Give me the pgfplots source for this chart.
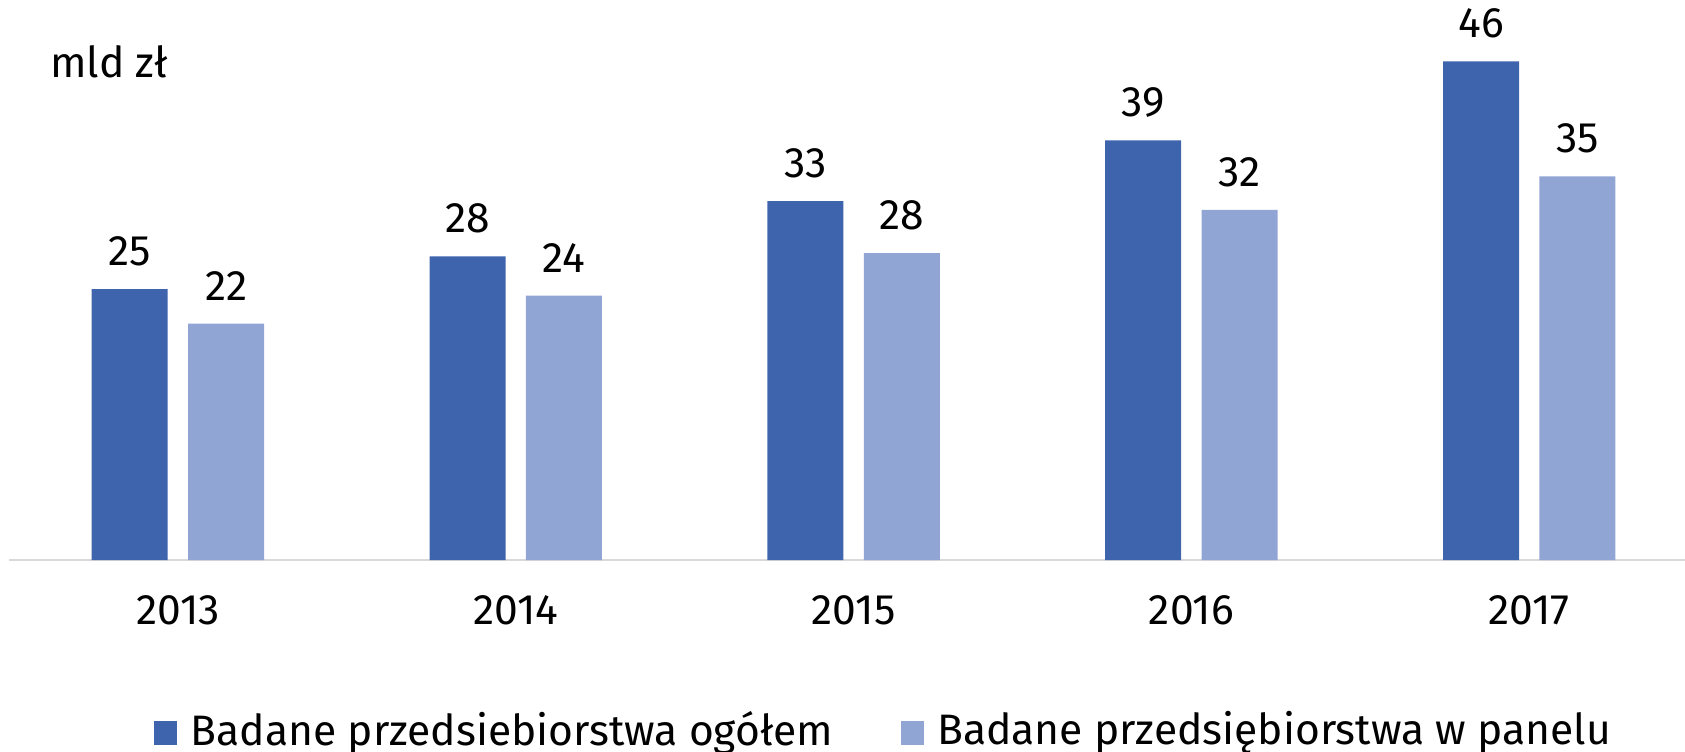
\documentclass[border=0pt]{standalone}
\usepackage{fontspec}
\setmainfont{Fira Sans}
\usepackage{pgfplots}
\pgfplotsset{compat=1.18}
\definecolor{darkbar}{HTML}{3E64AD}
\definecolor{lightbar}{HTML}{91A5D5}
\definecolor{axisgray}{HTML}{D9D9D9}
\begin{document}
\begin{tikzpicture}
\useasboundingbox (0,0) rectangle (842.5pt,375.5pt);
\begin{axis}[
  at={(4.5pt,95.5pt)}, anchor=south west,
  scale only axis, width=838pt, height=271pt,
  xmin=-0.5, xmax=4.461, ymin=0, ymax=50,
  axis x line=bottom, axis y line=none,
  x axis line style={draw=axisgray, line width=1pt, -},
  xtick={0,1,2,3,4}, xticklabels={2013,2014,2015,2016,2017},
  major tick length=0pt,
  xticklabel style={font=\fontsize{21.3}{23}\selectfont, inner sep=0pt, anchor=north, yshift=-17.5pt},
  ybar, bar width=38pt,
  /pgf/number format/assume math mode=true,
  nodes near coords={\pgfmathprintnumber[fixed,precision=0]{\pgfplotspointmeta}},
  every node near coord/.append style={font=\fontsize{21.3}{23}\selectfont, inner sep=0pt, anchor=south, yshift=11.35pt, text=black},
  legend style={at={(0.5212,-0.3133)}, anchor=center, draw=none, fill=none,
    font=\fontsize{21.3}{23}\selectfont, inner sep=0pt,
    nodes={inner sep=0pt},
    /tikz/every odd column/.append style={column sep=6.65pt},
    /tikz/every even column/.append style={column sep=33.8pt}},
  legend columns=2,
  clip=false,
]
\addplot[fill=darkbar, draw=none, bar shift=-24.1pt,
  legend image code/.code={\fill[darkbar] (0pt,-7.5pt) rectangle (11.7pt,4.2pt);}]
  coordinates {(0,25.0) (1,28.0) (2,33.1) (3,38.7) (4,46.0)};
\addplot[fill=lightbar, draw=none, bar shift=24.1pt,
  legend image code/.code={\fill[lightbar] (0pt,-7.5pt) rectangle (11.7pt,4.2pt);}]
  coordinates {(0,21.8) (1,24.4) (2,28.3) (3,32.3) (4,35.4)};
\legend{Badane przedsiebiorstwa ogółem, Badane przedsiębiorstwa w panelu}
\end{axis}
\node[anchor=base west, inner sep=0pt, font=\fontsize{21.3}{23}\selectfont] at (25.0pt,336.85pt) {mld zł};
\end{tikzpicture}
\end{document}
